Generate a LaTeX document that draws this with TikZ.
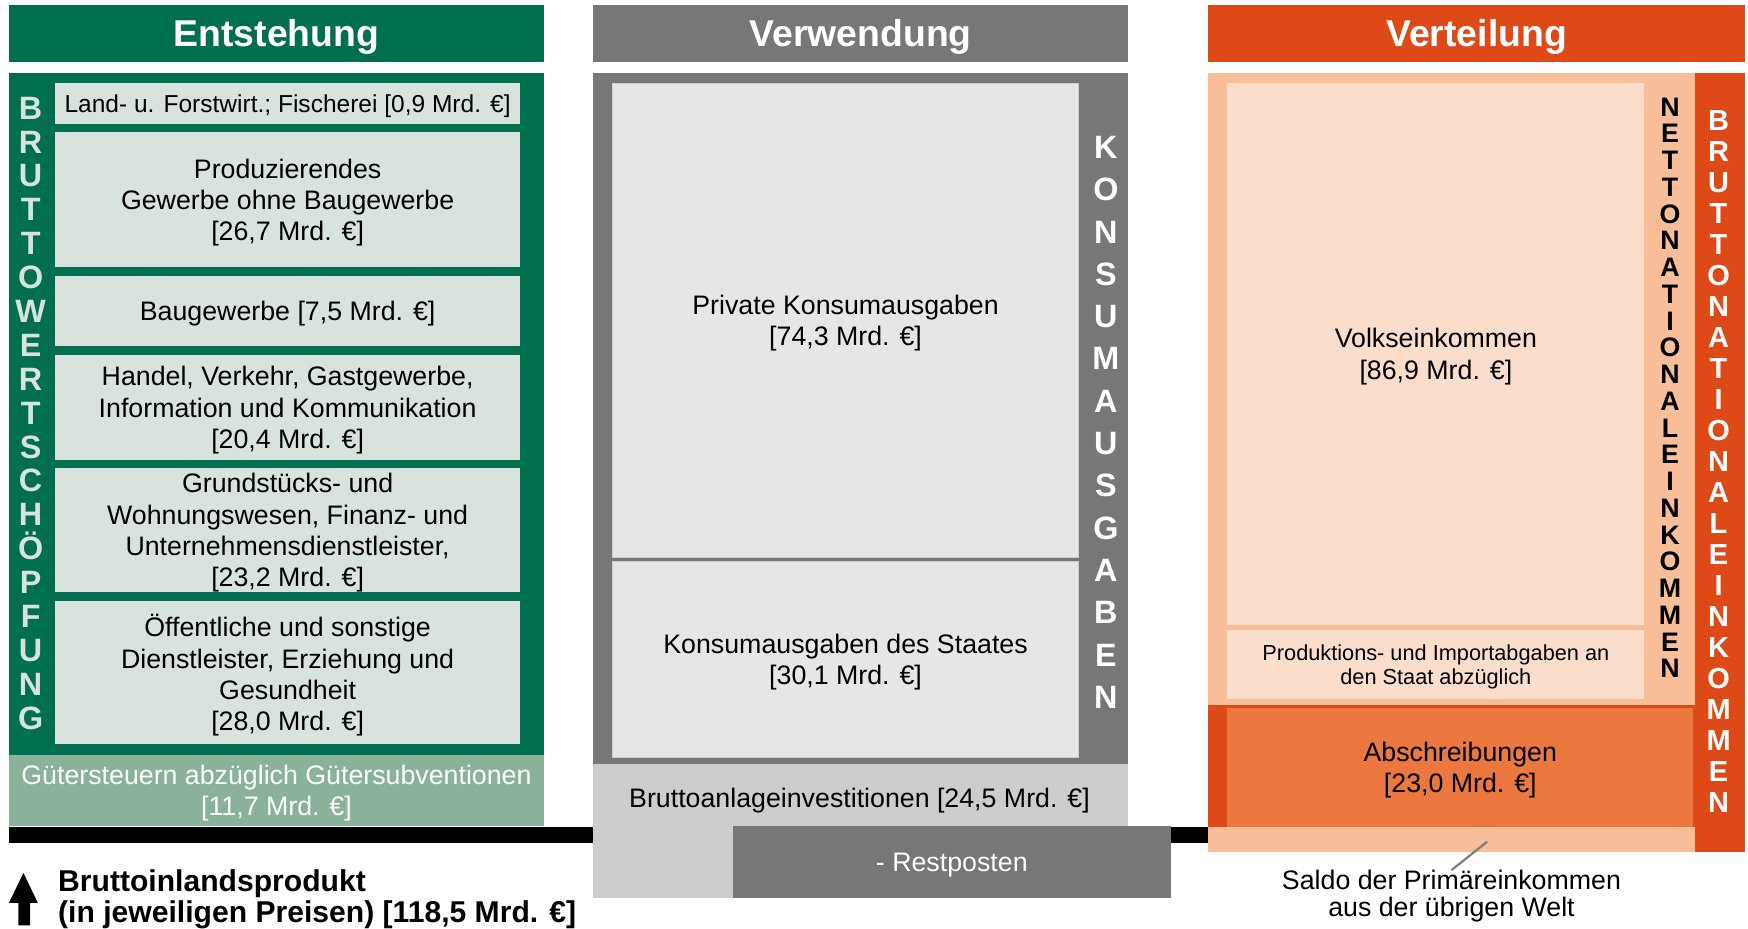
\documentclass[tikz,border=0pt]{standalone}
\usepackage{fontspec}
\setmainfont{Liberation Sans}
\definecolor{gruen}{RGB}{0,111,79}
\definecolor{gruenbox}{RGB}{217,227,221}
\definecolor{gruenhell}{RGB}{138,178,154}
\definecolor{grau}{RGB}{119,119,122}
\definecolor{graubox}{RGB}{230,230,230}
\definecolor{grauhell}{RGB}{205,205,208}
\definecolor{vtorange}{RGB}{221,74,23}
\definecolor{pfirsich}{RGB}{248,190,154}
\definecolor{pfirsichhell}{RGB}{251,221,203}
\definecolor{abschr}{RGB}{235,120,62}
\definecolor{linie}{RGB}{127,127,127}

\begin{document}
\begin{tikzpicture}[x=1pt,y=-1pt,
	feld/.style={rectangle,inner sep=0pt,align=center,text depth=0pt,font=\fontsize{24}{28}\selectfont},
	kopf/.style={rectangle,inner sep=0pt,text=white,text depth=0pt,minimum width=480pt,minimum height=51pt,font=\bfseries\fontsize{33.5}{36}\selectfont},
	buchst/.style={inner sep=0pt,text depth=0pt,text height=21pt,font=\bfseries\fontsize{29}{29}\selectfont}]
	\useasboundingbox (0,0) rectangle (1568,833);

	\node[kopf,fill=gruen] (0) at (248,30) {Entstehung};
	\node[kopf,fill=grau] (1) at (772,30) {Verwendung};
	\node[kopf,fill=vtorange,minimum width=481pt] (2) at (1324.5,30) {Verteilung};

	\node[feld,fill=black,minimum width=1076pt,minimum height=14.5pt] (5) at (546,748.75) {};
	\node[feld,fill=gruen,minimum width=480pt,minimum height=611.8pt] (3) at (248,371.4) {};
	\node[feld,fill=gruenhell,text=white,minimum width=480pt,minimum height=63.7pt] (4) at (248,709.2) {G\"utersteuern abz\"uglich G\"utersubventionen\\{}[11,7 Mrd. €]};
	\node[feld,fill=gruenbox,minimum width=417pt,minimum height=36.7pt,font=\fontsize{22}{26}\selectfont] (6) at (258,92.85) {Land- u. Forstwirt.; Fischerei [0,9 Mrd. €]};
	\node[feld,fill=gruenbox,minimum width=417pt,minimum height=121pt] (7) at (258,179) {Produzierendes\\Gewerbe ohne Baugewerbe\\{}[26,7 Mrd. €]};
	\node[feld,fill=gruenbox,minimum width=417pt,minimum height=62.8pt] (8) at (258,279) {Baugewerbe [7,5 Mrd. €]};
	\node[feld,fill=gruenbox,minimum width=417pt,minimum height=94.2pt] (9) at (258,365.5) {Handel, Verkehr, Gastgewerbe,\\Information und Kommunikation\\{}[20,4 Mrd. €]};
	\node[feld,fill=gruenbox,minimum width=417pt,minimum height=111.2pt] (10) at (258,475.4) {Grundst\"ucks- und\\Wohnungswesen, Finanz- und\\Unternehmensdienstleister,\\{}[23,2 Mrd. €]};
	\node[feld,fill=gruenbox,minimum width=417pt,minimum height=128.4pt] (11) at (258,603.2) {\"Offentliche und sonstige\\Dienstleister, Erziehung und\\Gesundheit\\{}[28,0 Mrd. €]};
	\foreach \c [count=\i] in {B,R,U,T,T,O,W,E,R,T,S,C,H,Ö,P,F,U,N,G}
		\node[buchst,text=gruenbox] (w\i) at (27.5,{96.4+30.4*(\i-1)}) {\c};

	\node[feld,fill=grau,minimum width=480pt,minimum height=619.5pt] (12) at (772,375.25) {};
	\node[feld,fill=graubox,draw=grauhell,minimum width=418pt,minimum height=425pt] (13) at (758.5,287) {Private Konsumausgaben\\{}[74,3 Mrd. €]};
	\node[feld,fill=graubox,draw=grauhell,minimum width=418pt,minimum height=175.8pt] (14) at (758.5,591.1) {Konsumausgaben des Staates\\{}[30,1 Mrd. €]};
	\node[feld,fill=grauhell,minimum width=480pt,minimum height=120.5pt] (15) at (772,745.25) {};
	\node[feld] (16) at (771,716) {Bruttoanlageinvestitionen [24,5 Mrd. €]};
	\node[feld,fill=grau,text=white,minimum width=392.4pt,minimum height=64.5pt] (17) at (853.8,773.25) {- Restposten};
	\foreach \c [count=\i] in {K,O,N,S,U,M,A,U,S,G,A,B,E,N}
		\node[buchst,text=white] (k\i) at (992,{131.6+37.95*(\i-1)}) {\c};

	\node[feld,fill=pfirsich,minimum width=437pt,minimum height=566.9pt] (18) at (1302,348.95) {};
	\node[feld,fill=vtorange,minimum width=44.5pt,minimum height=698.5pt] (19) at (1542.75,414.75) {};
	\node[feld,fill=vtorange,minimum width=437pt,minimum height=109.1pt] (20) at (1302,686.95) {};
	\node[feld,fill=pfirsich,minimum width=437pt,minimum height=22.5pt] (21) at (1302,752.75) {};
	\node[feld,fill=pfirsichhell,minimum width=374pt,minimum height=485.8pt] (22) at (1288,317.4) {Volkseinkommen\\{}[86,9 Mrd. €]};
	\node[feld,fill=pfirsichhell,minimum width=374pt,minimum height=62.3pt,font=\fontsize{19.5}{21}\selectfont] (23) at (1288,596.15) {Produktions- und Importabgaben an\\den Staat abz\"uglich};
	\node[feld,fill=abschr,minimum width=418.2pt,minimum height=106.7pt] (24) at (1309.9,688.15) {Abschreibungen\\{}[23,0 Mrd. €]};
	\foreach \c [count=\i] in {N,E,T,T,O,N,A,T,I,O,N,A,L,E,I,N,K,O,M,M,E,N}
		\node[buchst,text height=17pt,font=\bfseries\fontsize{24}{24}\selectfont] (n\i) at (1498,{95.7+23.99*(\i-1)}) {\c};
	\foreach \c [count=\i] in {B,R,U,T,T,O,N,A,T,I,O,N,A,L,E,I,N,K,O,M,M,E,N}
		\node[buchst,text=white,text height=19pt,font=\bfseries\fontsize{26}{26}\selectfont] (b\i) at (1541.6,{107.6+27.8*(\i-1)}) {\c};

	\node[feld,anchor=north,font=\fontsize{24}{24}\selectfont] (25) at (1302,780.5) {Saldo der Prim\"areinkommen\\aus der \"ubrigen Welt};
	\coordinate (26) at (1334,755);
	\draw[linie,line width=2pt] (26)--(25.north);

	\fill[black] (8,810)--(21,783)--(34,810)--(27,810)--(27,830)--(16.5,830)--(16.5,810)--cycle;
	\node[feld,anchor=west,align=left,font=\bfseries\fontsize{27}{28}\selectfont] (27) at (52,804) {Bruttoinlandsprodukt\\(in jeweiligen Preisen) [118,5 Mrd. €]};
\end{tikzpicture}
\end{document}
